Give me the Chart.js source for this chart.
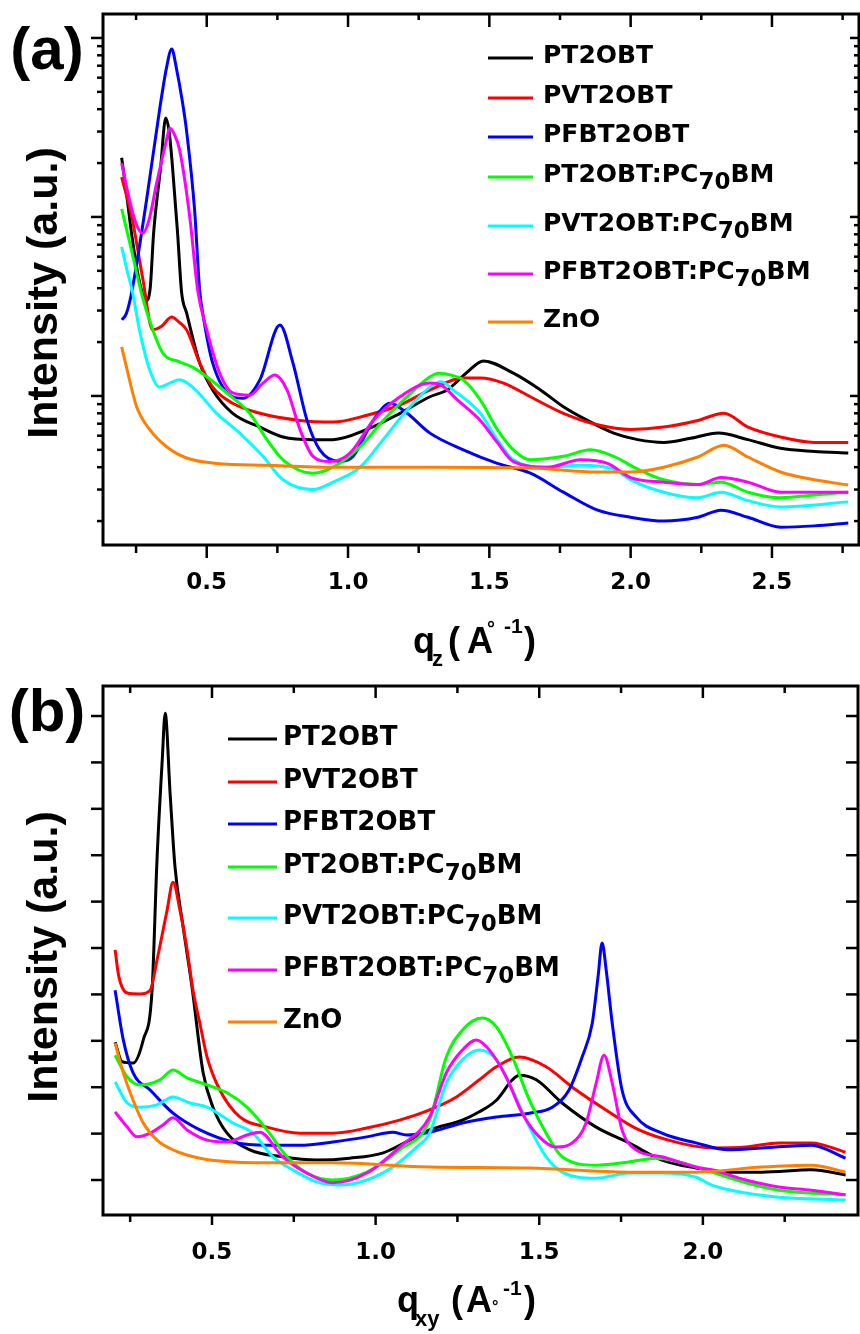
<!DOCTYPE html>
<html>
<head>
<meta charset="utf-8">
<script src="https://cdn.jsdelivr.net/npm/chart.js@4"></script>
<style>
  html, body { margin: 0; padding: 0; background: #fff; }
  #wrap { position: relative; width: 860px; height: 1334px; overflow: hidden; }
  canvas { position: absolute; left: 0; }
  #chartA { top: 0; }
  #chartB { top: 660px; }
</style>
</head>
<body>
<div id="wrap">
  <canvas id="chartA" width="860" height="680"></canvas>
  <canvas id="chartB" width="860" height="674"></canvas>
</div>
<script>
const seriesNames = ['PT2OBT', 'PVT2OBT', 'PFBT2OBT', 'PT2OBT:PC70BM', 'PVT2OBT:PC70BM', 'PFBT2OBT:PC70BM', 'ZnO'];
const seriesColors = ['#000000', '#ff0000', '#0000ff', '#00ff00', '#00ffff', '#ff00ff', '#ff8000'];

// (a) out-of-plane profiles, [q_z, intensity]
const qzPT2OBT = [[0.199,214],[0.215,140],[0.234,81],[0.26,45],[0.285,34],[0.3,40],[0.312,81],[0.337,190],[0.355,357],[0.367,300],[0.379,190],[0.397,81],[0.411,38],[0.429,29],[0.475,15.3],[0.521,10.8],[0.592,8.0],[0.688,6.7],[0.77,5.9],[0.876,5.7],[0.947,5.7],[1.067,6.5],[1.184,8.0],[1.29,9.9],[1.351,10.8],[1.42,13.5],[1.479,15.7],[1.585,13.4],[1.681,10.8],[1.762,8.7],[1.847,7.3],[1.94,6.2],[2.025,5.7],[2.117,5.5],[2.213,5.8],[2.31,6.2],[2.415,5.7],[2.53,5.1],[2.65,4.9],[2.77,4.8]];
const qzPVT2OBT = [[0.199,167],[0.235,100],[0.273,46],[0.309,23.4],[0.34,24.5],[0.376,27.6],[0.4,26],[0.429,23.4],[0.475,15.3],[0.521,11.2],[0.592,9.1],[0.688,8.0],[0.83,7.3],[0.947,7.15],[1.067,7.8],[1.184,8.9],[1.29,10.8],[1.408,12.6],[1.468,12.6],[1.55,11.8],[1.645,9.9],[1.762,8.0],[1.883,6.9],[2.0,6.5],[2.117,6.7],[2.238,7.3],[2.33,8.0],[2.415,6.7],[2.53,5.9],[2.649,5.5],[2.77,5.5]];
const qzPFBT2OBT = [[0.2,26.6],[0.216,29],[0.234,37.6],[0.287,124],[0.333,395],[0.358,685],[0.376,868],[0.394,660],[0.411,470],[0.429,300],[0.457,110],[0.475,39],[0.486,29],[0.521,15.3],[0.592,9.9],[0.628,9.7],[0.688,12.3],[0.759,24.9],[0.805,15.3],[0.855,7.3],[0.9,5.0],[0.972,4.3],[1.018,4.6],[1.089,7.3],[1.149,9.1],[1.209,8.0],[1.29,6.2],[1.408,5.0],[1.528,4.2],[1.645,3.7],[1.762,2.9],[1.883,2.3],[2.0,2.1],[2.117,2.0],[2.238,2.1],[2.32,2.3],[2.415,2.1],[2.53,1.85],[2.65,1.88],[2.77,1.95]];
const qzPT2OBTblend = [[0.199,111],[0.234,65],[0.27,37],[0.309,23.4],[0.344,17.4],[0.404,15.5],[0.45,14.5],[0.5,12.8],[0.571,10.4],[0.652,8.0],[0.713,5.7],[0.77,4.4],[0.876,3.7],[0.947,4.0],[1.043,5.2],[1.124,7.3],[1.209,9.9],[1.29,12.8],[1.32,13.4],[1.37,13.0],[1.408,12.3],[1.468,9.5],[1.528,6.5],[1.585,5.0],[1.645,4.4],[1.762,4.6],[1.858,5.0],[1.94,4.6],[2.025,3.9],[2.117,3.4],[2.238,3.2],[2.32,3.3],[2.415,2.9],[2.53,2.7],[2.65,2.8],[2.77,2.9]];
const qzPVT2OBTblend = [[0.199,68],[0.216,52],[0.238,37.6],[0.262,23.4],[0.298,14.0],[0.333,11.2],[0.369,11.8],[0.404,12.3],[0.45,11.2],[0.535,8.0],[0.617,6.2],[0.699,4.6],[0.77,3.4],[0.876,3.0],[0.947,3.3],[1.043,4.0],[1.124,5.7],[1.209,8.35],[1.29,11.2],[1.33,12.0],[1.372,10.8],[1.468,8.0],[1.528,5.7],[1.585,4.4],[1.706,4.0],[1.823,4.1],[1.94,3.9],[2.0,3.4],[2.117,2.9],[2.238,2.7],[2.32,2.9],[2.415,2.6],[2.53,2.4],[2.77,2.56]];
const qzPFBT2OBTblend = [[0.199,200],[0.227,124],[0.25,92],[0.273,81],[0.295,95],[0.323,155],[0.358,270],[0.369,314],[0.385,290],[0.404,237],[0.44,100],[0.468,39],[0.5,23.4],[0.546,13.4],[0.592,10.4],[0.652,10.1],[0.699,11.8],[0.741,13.1],[0.784,10.8],[0.83,6.5],[0.876,4.6],[0.936,4.3],[1.007,4.8],[1.089,7.3],[1.184,9.9],[1.29,11.8],[1.33,11.5],[1.387,9.5],[1.468,7.3],[1.528,5.5],[1.585,4.3],[1.706,4.0],[1.823,4.4],[1.918,4.2],[2.0,3.5],[2.117,3.3],[2.238,3.2],[2.32,3.5],[2.415,3.3],[2.53,2.9],[2.77,2.9]];
const qzZnO = [[0.199,18.8],[0.216,14.5],[0.252,8.7],[0.298,6.5],[0.358,5.2],[0.429,4.5],[0.535,4.2],[0.713,4.1],[0.947,4.0],[1.29,4.0],[1.645,3.96],[1.883,3.76],[2.0,3.76],[2.117,4.0],[2.238,4.56],[2.33,5.3],[2.415,4.56],[2.53,3.76],[2.65,3.4],[2.77,3.18]];

// (b) in-plane profiles, [q_xy, intensity]
const qxyPT2OBT = [[0.204,3.97],[0.225,3.55],[0.259,3.52],[0.29,4.02],[0.317,5.1],[0.332,7.9],[0.348,10.05],[0.357,11.06],[0.372,9.34],[0.387,7.75],[0.412,6.45],[0.439,5.16],[0.473,3.31],[0.503,2.57],[0.546,2.01],[0.616,1.65],[0.716,1.5],[0.82,1.43],[0.921,1.47],[1.021,1.58],[1.104,1.86],[1.165,2.08],[1.265,2.29],[1.317,2.47],[1.369,2.72],[1.418,3.16],[1.439,3.26],[1.491,3.16],[1.57,2.66],[1.674,2.14],[1.774,1.8],[1.875,1.43],[1.979,1.26],[2.079,1.17],[2.18,1.17],[2.332,1.22],[2.436,1.11]];
const qxyPVT2OBT = [[0.204,5.96],[0.215,5.4],[0.241,5.03],[0.28,5.01],[0.311,5.09],[0.332,5.74],[0.363,6.82],[0.381,7.42],[0.402,6.82],[0.424,5.96],[0.442,5.09],[0.463,4.38],[0.485,3.65],[0.524,2.94],[0.585,2.36],[0.668,2.14],[0.768,2.01],[0.869,2.01],[0.973,2.12],[1.073,2.29],[1.165,2.51],[1.247,2.79],[1.317,3.16],[1.369,3.44],[1.439,3.65],[1.521,3.44],[1.601,3.0],[1.704,2.51],[1.805,2.08],[1.927,1.8],[2.027,1.69],[2.131,1.71],[2.232,1.8],[2.332,1.8],[2.436,1.6]];
const qxyPFBT2OBT = [[0.204,5.09],[0.229,4.02],[0.259,3.31],[0.311,2.94],[0.381,2.44],[0.463,2.08],[0.564,1.82],[0.668,1.75],[0.768,1.75],[0.869,1.82],[0.973,1.93],[1.052,2.03],[1.095,1.97],[1.165,2.03],[1.265,2.23],[1.369,2.36],[1.47,2.44],[1.54,2.57],[1.591,2.94],[1.631,3.65],[1.662,4.38],[1.68,5.4],[1.692,6.11],[1.705,5.5],[1.723,4.38],[1.753,2.94],[1.796,2.36],[1.875,2.01],[1.979,1.8],[2.079,1.65],[2.18,1.69],[2.332,1.75],[2.436,1.47]];
const qxyPT2OBTblend = [[0.204,3.69],[0.241,3.22],[0.28,3.05],[0.341,3.16],[0.381,3.37],[0.424,3.2],[0.485,3.05],[0.546,2.88],[0.607,2.57],[0.668,2.08],[0.729,1.5],[0.79,1.15],[0.869,1.0],[0.973,1.17],[1.073,1.65],[1.165,2.29],[1.216,3.65],[1.265,4.23],[1.326,4.49],[1.369,4.3],[1.418,3.65],[1.47,2.72],[1.521,2.01],[1.57,1.5],[1.674,1.32],[1.774,1.39],[1.857,1.47],[1.927,1.39],[2.027,1.17],[2.131,0.94],[2.232,0.78],[2.436,0.68]];
const qxyPVT2OBTblend = [[0.204,3.11],[0.241,2.66],[0.28,2.57],[0.332,2.62],[0.381,2.79],[0.433,2.66],[0.485,2.57],[0.564,2.23],[0.625,2.01],[0.686,1.5],[0.747,1.22],[0.82,0.96],[0.89,0.89],[0.973,1.0],[1.052,1.28],[1.125,1.71],[1.165,2.01],[1.216,3.09],[1.265,3.59],[1.317,3.8],[1.369,3.59],[1.418,2.94],[1.47,2.14],[1.521,1.5],[1.57,1.17],[1.674,1.04],[1.774,1.15],[1.875,1.15],[1.979,1.06],[2.027,0.89],[2.131,0.72],[2.232,0.63],[2.436,0.57]];
const qxyPFBT2OBTblend = [[0.204,2.47],[0.241,2.14],[0.271,1.93],[0.311,2.01],[0.351,2.19],[0.381,2.34],[0.424,2.08],[0.485,1.86],[0.546,1.82],[0.607,1.97],[0.646,2.03],[0.716,1.5],[0.79,1.15],[0.869,0.94],[0.973,1.15],[1.073,1.71],[1.165,2.36],[1.216,3.31],[1.265,3.8],[1.308,4.02],[1.348,3.8],[1.399,3.22],[1.448,2.44],[1.5,1.93],[1.552,1.71],[1.601,1.8],[1.643,2.23],[1.674,3.09],[1.698,3.69],[1.723,3.09],[1.753,2.08],[1.796,1.65],[1.875,1.5],[1.979,1.28],[2.027,1.22],[2.131,1.0],[2.232,0.85],[2.332,0.78],[2.436,0.68]];
const qxyZnO = [[0.204,3.95],[0.229,3.31],[0.259,2.72],[0.29,2.23],[0.332,1.86],[0.381,1.65],[0.463,1.47],[0.564,1.39],[0.716,1.37],[0.869,1.37],[1.165,1.28],[1.47,1.26],[1.774,1.17],[1.979,1.17],[2.18,1.28],[2.332,1.32],[2.436,1.17]];

// axis ticks
const qzTickLabels = [0.5, 1.0, 1.5, 2.0, 2.5];
const qzMinorTicks = [0.25, 0.75, 1.25, 1.75, 2.25, 2.75];
const qzDecades = [10, 100, 1000];
const qxyTickLabels = [0.5, 1.0, 1.5, 2.0];
const qxyMinorTicks = [0.25, 0.75, 1.25, 1.75, 2.25];
const qxyIntensityTicks = [1, 2, 3, 4, 5, 6, 7, 8, 9, 10, 11];

const qzSeries = [qzPT2OBT, qzPVT2OBT, qzPFBT2OBT, qzPT2OBTblend, qzPVT2OBTblend, qzPFBT2OBTblend, qzZnO];
const qxySeries = [qxyPT2OBT, qxyPVT2OBT, qxyPFBT2OBT, qxyPT2OBTblend, qxyPVT2OBTblend, qxyPFBT2OBTblend, qxyZnO];

// log minor ticks 2..9 inside each decade
const qzLogMinor = [];
[1, 10, 100, 1000].forEach(d => {
  for (let m = 2; m <= 9; m++) qzLogMinor.push(m * d);
});

const TITLE_FONT = '"Liberation Sans", Arial, sans-serif';

function buildDatasets(series) {
  return series.map((pts, i) => ({
    label: seriesNames[i],
    data: pts.map(p => ({ x: p[0], y: p[1] })),
    borderColor: seriesColors[i],
    backgroundColor: seriesColors[i],
    borderWidth: 3,
    pointRadius: 0,
    cubicInterpolationMode: 'monotone',
    // later series sit on top, as in the original plot
    order: series.length - i
  }));
}

// frame box plus tick marks on all four sides
const frameTicks = {
  id: 'frameTicks',
  afterDraw(chart, args, opts) {
    const { ctx, chartArea: a } = chart;
    const x = chart.scales.x, y = chart.scales.y;
    const seg = (x0, y0, x1, y1) => { ctx.beginPath(); ctx.moveTo(x0, y0); ctx.lineTo(x1, y1); ctx.stroke(); };
    ctx.save();
    ctx.strokeStyle = '#000';
    ctx.lineWidth = 2.5;
    const xTick = (v, len) => {
      if (v < x.min || v > x.max) return;
      const px = x.getPixelForValue(v);
      seg(px, a.bottom, px, a.bottom + len.bottom);
      seg(px, a.top, px, a.top + len.top);
    };
    const yTick = (v, len) => {
      if (v < y.min || v > y.max) return;
      const py = y.getPixelForValue(v);
      seg(a.left - len.left, py, a.left, py);
      seg(a.right - len.right, py, a.right, py);
    };
    opts.xMajor.forEach(v => xTick(v, opts.xMajorLen));
    opts.xMinor.forEach(v => xTick(v, opts.xMinorLen));
    opts.yMajor.forEach(v => yTick(v, opts.yMajorLen));
    opts.yMinor.forEach(v => yTick(v, opts.yMinorLen));
    ctx.lineWidth = 3;
    ctx.strokeRect(a.left, a.top, a.right - a.left, a.bottom - a.top);
    ctx.restore();
  }
};

// draws "PC70BM" with the 70 set low
function drawChemLabel(ctx, text, x, baseline, size) {
  const m = text.match(/^(.*PC)(70)(BM)$/);
  const parts = m ? [[m[1], 0, 1], [m[2], 7, 0.9], [m[3], 0, 1]] : [[text, 0, 1]];
  let cx = x;
  parts.forEach(([t, dy, k]) => {
    ctx.font = `bold ${Math.round(size * k)}px "DejaVu Sans"`;
    ctx.fillText(t, cx, baseline + dy);
    cx += ctx.measureText(t).width;
  });
}

const seriesKey = {
  id: 'seriesKey',
  afterDraw(chart, args, opts) {
    const { ctx } = chart;
    ctx.save();
    ctx.textAlign = 'left';
    ctx.textBaseline = 'alphabetic';
    chart.data.datasets.forEach((ds, i) => {
      const ly = opts.rows[i];
      ctx.strokeStyle = ds.borderColor;
      ctx.lineWidth = 3;
      ctx.beginPath();
      ctx.moveTo(opts.lineFrom, ly);
      ctx.lineTo(opts.lineTo, ly);
      ctx.stroke();
      ctx.fillStyle = '#000';
      drawChemLabel(ctx, ds.label, opts.textX, ly + opts.textDrop, opts.size);
    });
    ctx.restore();
  }
};

// panel letter, rotated y title and the q title with its sub/superscripts
const panelText = {
  id: 'panelText',
  afterDraw(chart, args, opts) {
    const { ctx } = chart;
    ctx.save();
    ctx.fillStyle = '#000';
    ctx.font = `bold 60px ${TITLE_FONT}`;
    ctx.textAlign = 'center';
    ctx.textBaseline = 'middle';
    ctx.fillText(opts.letter, opts.letterX, opts.letterY);

    ctx.save();
    ctx.translate(opts.yTitleX, opts.yTitleY);
    ctx.rotate(-Math.PI / 2);
    ctx.font = `bold 43px ${TITLE_FONT}`;
    ctx.fillText('Intensity (a.u.)', 0, 0);
    ctx.restore();

    ctx.textAlign = 'left';
    ctx.textBaseline = 'alphabetic';
    opts.xTitle.forEach(p => {
      ctx.font = `bold ${p.size}px ${TITLE_FONT}`;
      ctx.fillText(p.t, p.x, opts.xTitleBase + (p.dy || 0));
    });
    ctx.restore();
  }
};

function panelOptions(cfg) {
  return {
    responsive: false,
    animation: false,
    layout: { padding: { top: cfg.top, right: cfg.right, left: 0, bottom: 0 } },
    plugins: {
      legend: { display: false },
      tooltip: { enabled: false },
      frameTicks: cfg.ticks,
      seriesKey: cfg.key,
      panelText: cfg.text
    },
    scales: {
      x: {
        type: 'linear',
        min: cfg.xMin,
        max: cfg.xMax,
        afterFit: s => { s.height = cfg.xHeight; },
        afterBuildTicks: s => { s.ticks = cfg.xLabels.map(v => ({ value: v })); },
        grid: { display: false, drawTicks: false },
        border: { display: false },
        ticks: {
          padding: cfg.tickPad,
          color: '#000',
          autoSkip: false,
          maxRotation: 0,
          font: { family: 'DejaVu Sans', weight: 'bold', size: 23 },
          callback: v => v.toFixed(1)
        }
      },
      y: {
        type: cfg.yType,
        min: cfg.yMin,
        max: cfg.yMax,
        afterFit: s => { s.width = 103; },
        grid: { display: false, drawTicks: false },
        border: { display: false },
        ticks: { display: false }
      }
    }
  };
}

new Chart(document.getElementById('chartA'), {
  type: 'line',
  data: { datasets: buildDatasets(qzSeries) },
  plugins: [frameTicks, seriesKey, panelText],
  options: panelOptions({
    top: 14, right: 1, xHeight: 135, tickPad: 24,
    xMin: 0.133, xMax: 2.808, xLabels: qzTickLabels,
    yType: 'logarithmic', yMin: 1.47, yMax: 1361,
    ticks: {
      xMajor: qzTickLabels, xMinor: qzMinorTicks,
      yMajor: qzDecades, yMinor: qzLogMinor,
      xMajorLen: { top: 13, bottom: 13 }, xMinorLen: { top: 6, bottom: 8 },
      yMajorLen: { left: 12, right: 9 }, yMinorLen: { left: 6, right: 5 }
    },
    key: {
      rows: [58, 98, 137, 177, 226, 274, 322],
      lineFrom: 488, lineTo: 533, textX: 543, textDrop: 5, size: 25
    },
    text: {
      letter: '(a)', letterX: 47, letterY: 52,
      yTitleX: 45, yTitleY: 293,
      xTitleBase: 653,
      xTitle: [
        { t: 'q', x: 413, size: 36 },
        { t: 'z', x: 432, size: 22, dy: 13 },
        { t: '(', x: 448, size: 36 },
        { t: 'A', x: 467, size: 36 },
        { t: '°', x: 487, size: 20, dy: -18 },
        { t: '-1', x: 504, size: 21, dy: -20 },
        { t: ')', x: 524, size: 36 }
      ]
    }
  })
});

new Chart(document.getElementById('chartB'), {
  type: 'line',
  data: { datasets: buildDatasets(qxySeries) },
  plugins: [frameTicks, seriesKey, panelText],
  options: panelOptions({
    top: 26, right: 2, xHeight: 119, tickPad: 24,
    xMin: 0.167, xMax: 2.474, xLabels: qxyTickLabels,
    yType: 'linear', yMin: 0.246, yMax: 11.647,
    ticks: {
      xMajor: qxyTickLabels, xMinor: qxyMinorTicks,
      yMajor: qxyIntensityTicks, yMinor: [],
      xMajorLen: { top: 12, bottom: 10 }, xMinorLen: { top: 7, bottom: 7 },
      yMajorLen: { left: 12, right: 12 }, yMinorLen: { left: 6, right: 6 }
    },
    key: {
      rows: [79, 122, 164, 207, 258, 310, 362],
      lineFrom: 228, lineTo: 277, textX: 283, textDrop: 6, size: 26
    },
    text: {
      letter: '(b)', letterX: 47, letterY: 54,
      yTitleX: 45, yTitleY: 297,
      xTitleBase: 652,
      xTitle: [
        { t: 'q', x: 397, size: 36 },
        { t: 'xy', x: 415, size: 22, dy: 14 },
        { t: '(', x: 451, size: 36 },
        { t: 'A', x: 466, size: 36 },
        { t: '°', x: 492, size: 16 },
        { t: '-1', x: 503, size: 21, dy: -17 },
        { t: ')', x: 524, size: 36 }
      ]
    }
  })
});
</script>
</body>
</html>
